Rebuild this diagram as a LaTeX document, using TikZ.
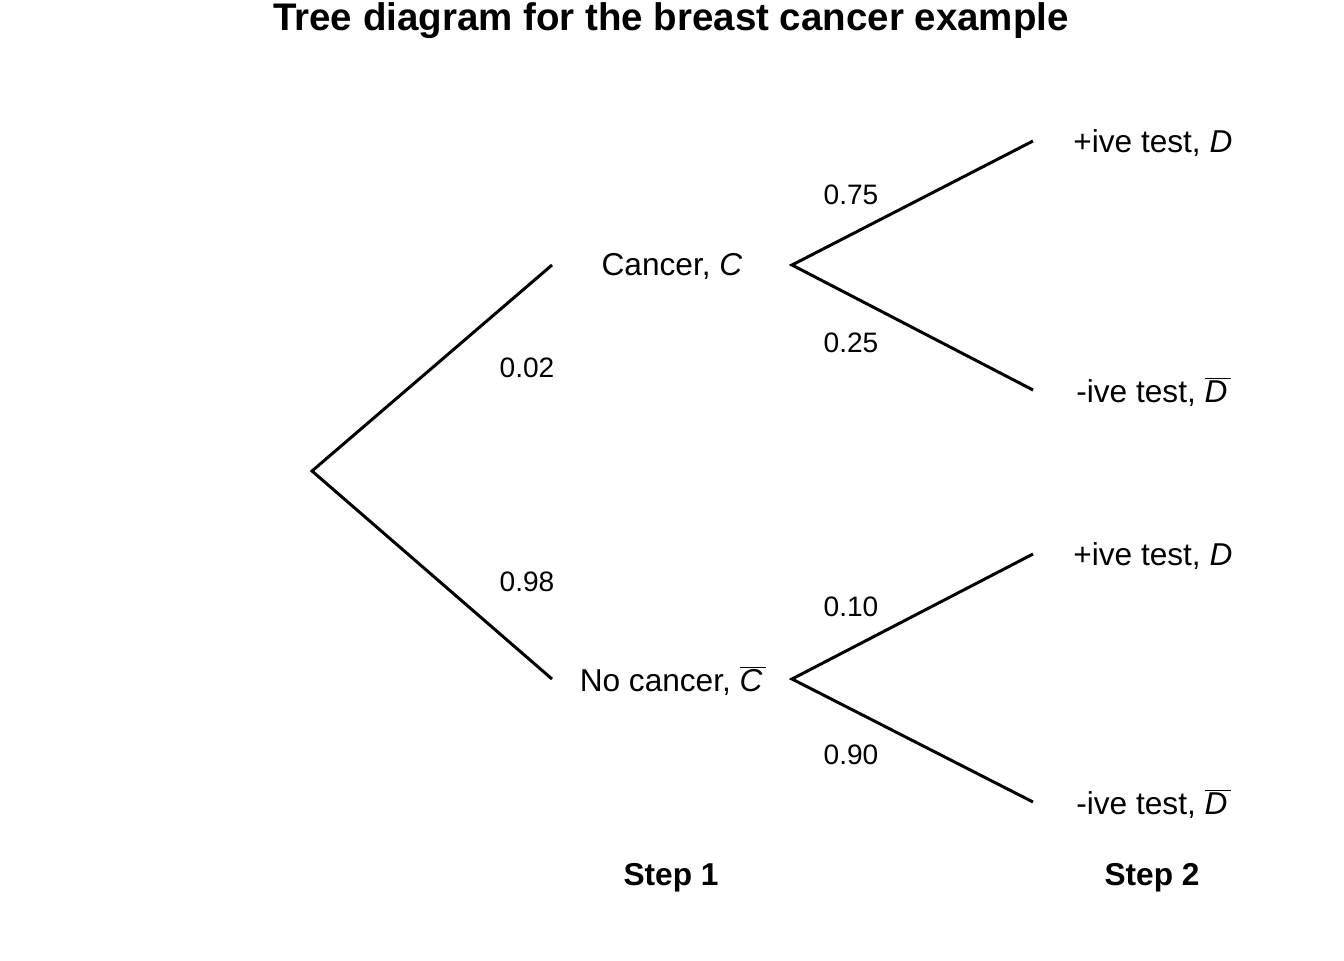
\documentclass[tikz,border=0pt]{standalone}
\usepackage{fontspec}
\setmainfont{Liberation Sans}
\usetikzlibrary{positioning}
\begin{document}
\begin{tikzpicture}[x=0.02cm, y=-0.02cm,
branch/.style = {line width=1.7pt},
event/.style = {yshift=-1.1pt, font=\fontsize{18}{20}\selectfont},
prob/.style = {yshift=-1.1pt, font=\fontsize{16}{18}\selectfont},
stepname/.style = {yshift=-1.1pt, font=\fontsize{18}{20}\selectfont\bfseries}]
\tikzstyle{every node}=[inner sep=0pt]
\useasboundingbox (0,0) rectangle (1344,960);
\node[yshift=-1.1pt, font=\fontsize{21.9}{24}\selectfont\bfseries] (title) at (671,19) {Tree diagram for the breast cancer example};
% branch points
\coordinate (root) at (312,471);
\coordinate (cend) at (552,265);
\coordinate (ncend) at (552,679);
\coordinate (cstart) at (792,265);
\coordinate (ncstart) at (792,679);
\coordinate (cpos) at (1033,141);
\coordinate (cneg) at (1033,390);
\coordinate (ncpos) at (1033,554);
\coordinate (ncneg) at (1033,802);
% events
\node[event] (C) at (672,265) {Cancer, \textit{C}};
\node[event] (NC) at (673,679) {No cancer, $\overline{\mbox{\textit{C}\kern2pt}}$};
\node[event, anchor=west] (CD) at (1073,141) {+ive test, \textit{D}};
\node[event, anchor=west] (CND) at (1076,390) {-ive test, $\overline{\mbox{\textit{D}\kern2pt}}$};
\node[event, anchor=west] (NCD) at (1073,554) {+ive test, \textit{D}};
\node[event, anchor=west] (NCND) at (1076,802) {-ive test, $\overline{\mbox{\textit{D}\kern2pt}}$};
% probabilities
\node[prob] (p1) at (527,366) {0.02};
\node[prob] (p2) at (527,580) {0.98};
\node[prob] (p3) at (851,193) {0.75};
\node[prob] (p4) at (851,341) {0.25};
\node[prob] (p5) at (851,605) {0.10};
\node[prob] (p6) at (851,753) {0.90};
\node[stepname] (s1) at (671,876) {Step 1};
\node[stepname] (s2) at (1152,876) {Step 2};
\draw[branch] (cend) -- (root) -- (ncend);
\draw[branch] (cpos) -- (cstart) -- (cneg);
\draw[branch] (ncpos) -- (ncstart) -- (ncneg);
\end{tikzpicture}
\end{document}
